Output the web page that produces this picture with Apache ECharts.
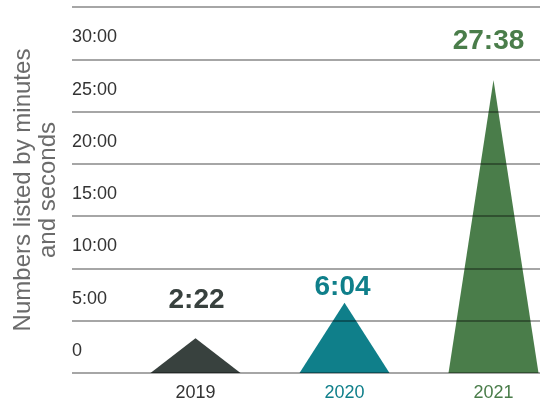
<!DOCTYPE html>
<html>
<head>
<meta charset="utf-8">
<script src="https://cdn.jsdelivr.net/npm/echarts@6/dist/echarts.min.js"></script>
<style>html,body{margin:0;padding:0;background:#fff}#c{width:540px;height:407px}</style>
</head>
<body>
<div id="c"></div>
<script>
// Data
var categories = ['2019', '2020', '2021'];
var shapeSeconds = [199, 403, 1681];          // triangle heights as drawn (seconds)
var valueLabels = ['2:22', '6:04', '27:38'];  // labels printed above triangles
var tickSeconds = [0, 300, 600, 900, 1200, 1500, 1800, 2100];
var tickLabels = ['0', '5:00', '10:00', '15:00', '20:00', '25:00', '30:00', ''];
var colors = ['#38413e', '#0f7f8a', '#4a7d4a'];
var labelColors = ['#333333', '#0f7f8a', '#4a7d4a'];

// Styling (not data)
var labelDistance = [24, 1, 25];
var labelOffsetX = [1, -2, -5];

var FONT = '"Liberation Sans", Arial, sans-serif';

var chart = echarts.init(document.getElementById('c'), null, {renderer: 'canvas'});

var seriesData = shapeSeconds.map(function (v, i) {
  return {
    value: v,
    itemStyle: {color: colors[i]},
    label: {
      show: true,
      position: 'top',
      distance: labelDistance[i],
      offset: [labelOffsetX[i], 0],
      formatter: valueLabels[i],
      color: colors[i],
      fontSize: 28,
      fontWeight: 'bold',
      fontFamily: FONT,
      lineHeight: 28
    }
  };
});

var option = {
  animation: false,
  backgroundColor: '#ffffff',
  grid: [
    {left: 72, right: 0, top: 7, bottom: 34, containLabel: false, outerBoundsMode: 'none'},
    {left: 121, width: 447, top: 7, bottom: 34, containLabel: false, outerBoundsMode: 'none'}
  ],
  xAxis: [
    {gridIndex: 0, type: 'category', data: categories, show: false},
    {
      gridIndex: 1, type: 'category',
      data: categories.map(function (c, i) {
        return {value: c, textStyle: {color: labelColors[i]}};
      }),
      axisLine: {show: false}, axisTick: {show: false},
      axisLabel: {fontSize: 18, fontFamily: FONT, margin: 11}
    }
  ],
  yAxis: [
    {
      gridIndex: 0, type: 'value', min: 0, max: 2100, interval: 300, z: 5,
      axisLine: {show: false}, axisTick: {show: false},
      splitLine: {show: true, lineStyle: {color: 'rgba(0,0,0,0.35)', width: 2}},
      axisLabel: {
        inside: true, margin: 0, verticalAlign: 'bottom',
        padding: [0, 0, 13, 0],
        fontSize: 18, color: '#333333', fontFamily: FONT,
        formatter: function (v) {
          var idx = tickSeconds.indexOf(v);
          return idx >= 0 ? tickLabels[idx] : '';
        }
      },
      name: 'Numbers listed by minutes\nand seconds',
      nameLocation: 'middle',
      nameRotate: 90,
      nameGap: 11,
      nameMoveOverlap: false,
      nameTextStyle: {fontSize: 24, lineHeight: 25, color: '#6b6b6b', fontFamily: FONT, align: 'center'}
    },
    {gridIndex: 1, type: 'value', min: 0, max: 2100, interval: 300, show: false}
  ],
  series: [
    {
      type: 'pictorialBar',
      xAxisIndex: 1, yAxisIndex: 1,
      symbol: 'triangle',
      symbolSize: [90, '100%'],
      z: 2,
      data: seriesData
    }
  ]
};
chart.setOption(option);
</script>
</body>
</html>
